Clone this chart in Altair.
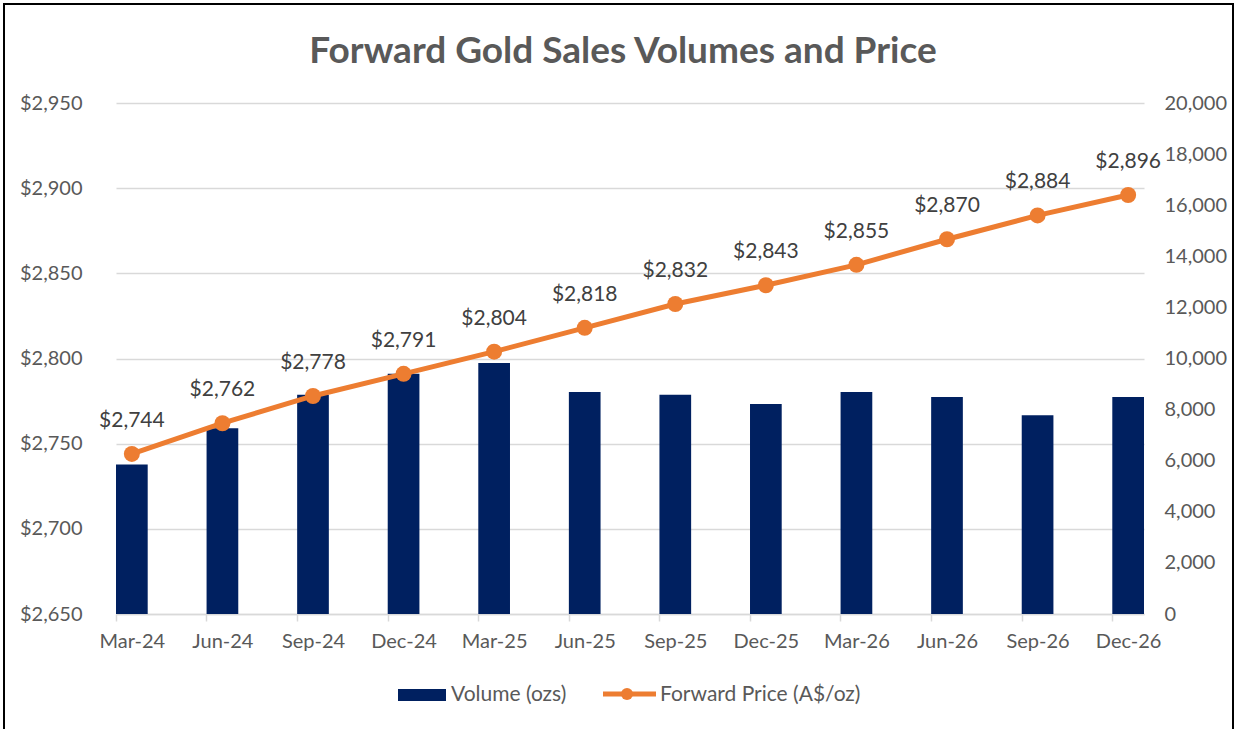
import altair as alt
import pandas as pd

periods = ["Mar-24", "Jun-24", "Sep-24", "Dec-24", "Mar-25", "Jun-25",
           "Sep-25", "Dec-25", "Mar-26", "Jun-26", "Sep-26", "Dec-26"]
price = [2744, 2762, 2778, 2791, 2804, 2818, 2832, 2843, 2855, 2870, 2884, 2896]
volume = [5850, 7270, 8580, 9400, 9820, 8690, 8580, 8220, 8690, 8490, 7780, 8490]

df = pd.DataFrame({"period": periods, "price": price, "volume": volume})

FONT = "Lato"
GREY = "#595959"
NAVY = "#002060"
ORANGE = "#ED7D31"

W, H = 1028, 511

x_enc = alt.X(
    "period:O", sort=periods,
    scale=alt.Scale(paddingInner=0.65, paddingOuter=0),
    axis=alt.Axis(title=None, labelAngle=0, labelFontSize=20, labelColor=GREY,
                  labelFont=FONT, domainColor="#D9D9D9", domainWidth=1.5,
                  tickColor="#D9D9D9", tickWidth=1.5, tickSize=7,
                  tickOffset=-16, labelOffset=16, labelPadding=10),
)

bars = alt.Chart(df).mark_bar(color=NAVY).encode(
    x=x_enc,
    y=alt.Y("volume:Q", scale=alt.Scale(domain=[0, 20000], nice=False),
            axis=alt.Axis(orient="right", title=None, values=list(range(0, 20001, 2000)),
                          format=",.0f", grid=False, domain=False, ticks=False,
                          labelFontSize=20, labelColor=GREY, labelFont=FONT,
                          labelPadding=20)),
)

y_price = alt.Y("price:Q", scale=alt.Scale(domain=[2650, 2950], nice=False),
                axis=alt.Axis(orient="left", title=None, values=list(range(2650, 2951, 50)),
                              format="$,.0f", grid=True, gridColor="#D9D9D9", gridWidth=1.5,
                              domain=False, ticks=False, labelFontSize=20,
                              labelColor=GREY, labelFont=FONT, labelPadding=34))

line = alt.Chart(df).mark_line(
    color=ORANGE, strokeWidth=5,
    point=alt.OverlayMarkDef(filled=True, size=256, color=ORANGE, opacity=1),
).encode(x=alt.X("period:O", sort=periods), y=y_price)

labels = alt.Chart(df).mark_text(
    dy=-33, fontSize=21, color="#404040", font=FONT, baseline="middle"
).encode(x=alt.X("period:O", sort=periods), y=y_price,
         text=alt.Text("price:Q", format="$,.0f"))

price_layer = alt.layer(line, labels)

one = pd.DataFrame({"k": [0]})

title = alt.Chart(one).mark_text(
    text="Forward Gold Sales Volumes and Price", align="center", baseline="alphabetic",
    fontSize=37, fontWeight="bold", color=GREY, font=FONT
).encode(x=alt.value(507), y=alt.value(-40))

leg_rect = alt.Chart(one).mark_rect(color=NAVY).encode(
    x=alt.value(282), x2=alt.value(330), y=alt.value(586), y2=alt.value(598))
leg_text1 = alt.Chart(one).mark_text(
    text="Volume (ozs)", align="left", baseline="middle", fontSize=21,
    color=GREY, font=FONT).encode(x=alt.value(335), y=alt.value(592))
leg_line = alt.Chart(one).mark_rule(color=ORANGE, strokeWidth=5).encode(
    x=alt.value(487), x2=alt.value(540), y=alt.value(591))
leg_pt = alt.Chart(one).mark_point(filled=True, size=144, color=ORANGE, opacity=1).encode(
    x=alt.value(511), y=alt.value(591))
leg_text2 = alt.Chart(one).mark_text(
    text="Forward Price (A$/oz)", align="left", baseline="middle", fontSize=21,
    color=GREY, font=FONT).encode(x=alt.value(544), y=alt.value(592))

border = alt.Chart(one).mark_rect(fill=None, stroke="black", strokeWidth=2).encode(
    x=alt.value(-112), x2=alt.value(1117), y=alt.value(-99), y2=alt.value(640))

main = alt.layer(bars, price_layer).resolve_scale(y="independent")

chart = alt.layer(
    main, title, leg_rect, leg_text1, leg_line, leg_pt, leg_text2, border
).properties(
    width=W, height=H,
    autosize=alt.AutoSizeParams(type="none"),
    padding={"left": 116, "top": 103, "right": 96, "bottom": 115},
    background="white",
).configure_view(stroke=None)

chart.save("out.html", embed_options={"renderer": "svg", "actions": False})
